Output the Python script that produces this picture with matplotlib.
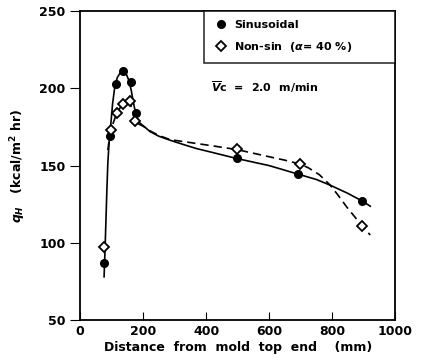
import matplotlib
matplotlib.use('Agg')
import matplotlib.pyplot as plt

# measured points
sin_x = [76, 95, 114, 137, 160, 178, 497, 693, 896]
sin_y = [87, 169, 203, 211, 204, 184, 155, 144.5, 127]
non_x = [76, 98, 118, 137, 157, 175, 497, 698, 896]
non_y = [97, 173, 184, 190, 192, 179, 160.5, 151, 111]

# hand-drawn curves
sin_cx = [76, 79, 82, 85, 88, 92, 97, 103, 110, 118, 127, 137, 147, 155, 162, 168, 174, 180, 190,
          205, 222, 250, 286, 330, 370, 420, 497, 600, 693, 750, 794, 850, 896, 921]
sin_cy = [78, 95, 115, 135, 152, 165, 176, 190, 201, 207, 210, 211, 209, 205, 199, 192, 186, 181, 177.5,
          175, 172, 169, 166.4, 163.5, 161, 158.5, 154.6, 150, 144.4, 141, 137.3, 132, 127, 123.7]
non_cx = [88, 93, 98, 104, 111, 118, 127, 137, 147, 157, 163, 169, 175, 185, 200, 222, 250, 286,
          330, 370, 420, 497, 550, 603, 650, 698, 725, 760, 794, 820, 847, 875, 896, 921]
non_cy = [160, 168, 173, 177, 181, 184, 187.5, 190, 191.5, 191, 188, 183, 179, 177, 175.5, 172.5, 169.5, 166.8,
          165.5, 164.3, 162.8, 160.4, 158, 155.6, 153.5, 151, 148.5, 144, 137.3, 130.5, 123, 116, 110.8, 105]

plt.rcParams['font.family'] = ['DejaVu Sans']
plt.rcParams['font.weight'] = 'bold'
plt.rcParams['axes.labelweight'] = 'bold'

fig = plt.figure(figsize=(4.24, 3.6), dpi=100)
ax = fig.add_axes([0.189, 0.111, 0.743, 0.858])

ax.plot(sin_cx, sin_cy, color='black', lw=1.2)
ax.plot(non_cx, non_cy, color='black', lw=1.2, ls=(0, (5, 3)))
ax.plot(sin_x, sin_y, 'o', color='black', ms=5.5, label='Sinusoidal')
ax.plot(non_x, non_y, 'D', mfc='white', mec='black', mew=1.3, ms=5,
        label='Non-sin  ($\\alpha$= 40 %)')

ax.text(587, 201, '$\\overline{V}$c  =  2.0  m/min', fontsize=8, ha='center', va='center')

leg = ax.legend(loc='upper left', bbox_to_anchor=(0.394, 0.812, 0.606, 0.188), mode='expand',
                borderaxespad=0, fancybox=False, edgecolor='black', fontsize=8,
                handletextpad=0.4, handlelength=1.5, borderpad=0.8, labelspacing=0.9, numpoints=1)
leg.get_frame().set_linewidth(1.2)

ax.set_xlim(0, 1000)
ax.set_ylim(50, 250)
ax.set_xticks([0, 200, 400, 600, 800, 1000])
ax.set_yticks([50, 100, 150, 200, 250])
ax.tick_params(axis='x', direction='in', length=6, labelsize=9)
ax.tick_params(axis='y', direction='out', length=7, labelsize=9)
for s in ax.spines.values():
    s.set_linewidth(1.3)

ax.set_xlabel('Distance  from  mold  top  end    (mm)', fontsize=9, labelpad=2)
ax.set_ylabel('$q_H$   (kcal/m$^2$ hr)', fontsize=9, labelpad=8)

fig.savefig('out.png', dpi=100)
